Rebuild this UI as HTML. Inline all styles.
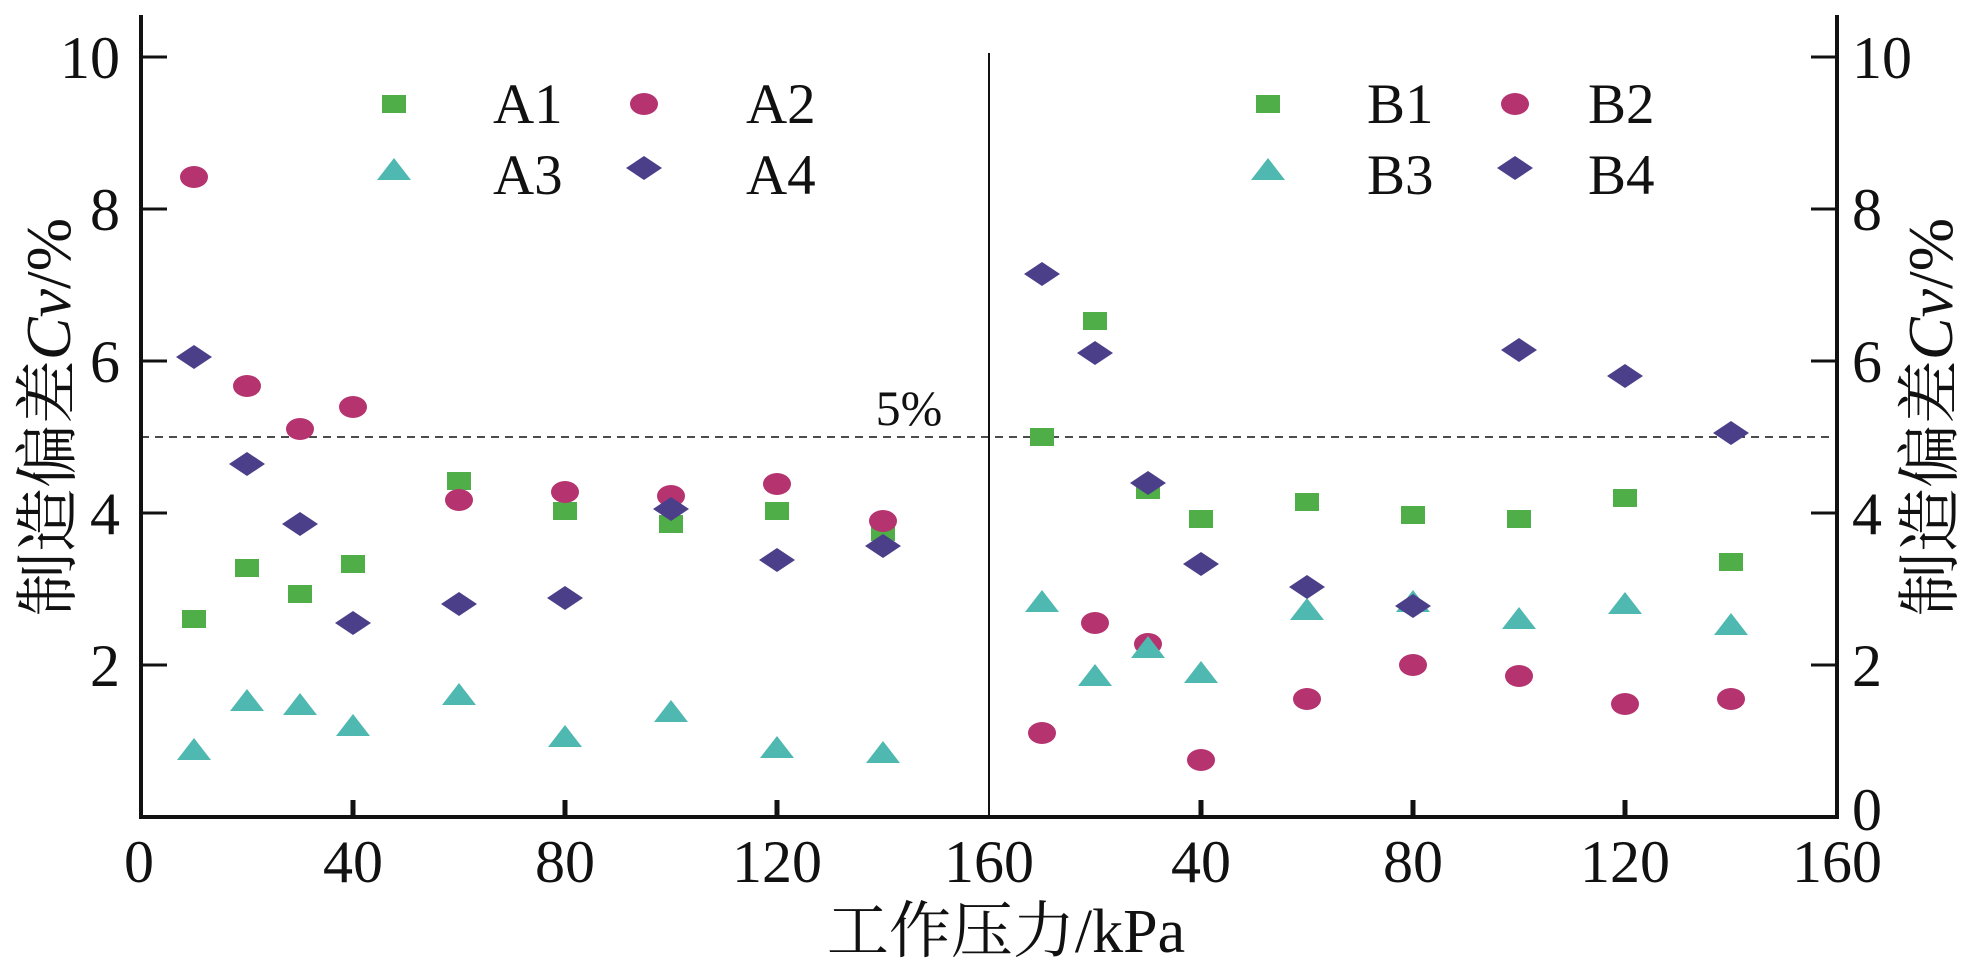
<!DOCTYPE html>
<html><head><meta charset="utf-8"><style>
body{margin:0;background:#fff}
svg{display:block}
text{font-family:"Liberation Serif","Noto Serif CJK SC",serif;fill:#111}
</style></head><body>
<svg width="1980" height="978" viewBox="0 0 1980 978" xmlns="http://www.w3.org/2000/svg">
<defs>
<rect id="sq" x="-12" y="-9" width="24" height="18" fill="#4fae48"/>
<ellipse id="ci" rx="14" ry="11" fill="#b5346f"/>
<polygon id="tr" points="0,-14 17,8 -17,8" fill="#4fb8b0"/>
<polygon id="di" points="-18,0 0,-12 18,0 0,12" fill="#4b3f8a"/>
</defs>
<g stroke="#111" fill="none">
<path d="M141,15 V817 H1837 V15" stroke-width="4"/>
<line x1="989" y1="53" x2="989" y2="817" stroke-width="2"/>
<line x1="141" y1="437" x2="1837" y2="437" stroke-width="1.5" stroke-dasharray="8,6"/>
<g stroke-width="3">
<line x1="141" y1="57" x2="167" y2="57"/><line x1="141" y1="209" x2="167" y2="209"/><line x1="141" y1="361" x2="167" y2="361"/><line x1="141" y1="513" x2="167" y2="513"/><line x1="141" y1="665" x2="167" y2="665"/>
<line x1="1837" y1="57" x2="1811" y2="57"/><line x1="1837" y1="209" x2="1811" y2="209"/><line x1="1837" y1="361" x2="1811" y2="361"/><line x1="1837" y1="513" x2="1811" y2="513"/><line x1="1837" y1="665" x2="1811" y2="665"/>
</g>
<g stroke-width="5">
<line x1="353" y1="817" x2="353" y2="800"/><line x1="565" y1="817" x2="565" y2="800"/><line x1="777" y1="817" x2="777" y2="800"/>
<line x1="1201" y1="817" x2="1201" y2="800"/><line x1="1413" y1="817" x2="1413" y2="800"/><line x1="1625" y1="817" x2="1625" y2="800"/>
</g>
</g>
<g font-size="60" text-anchor="end">
<text x="120" y="78">10</text><text x="120" y="230">8</text><text x="120" y="382">6</text><text x="120" y="534">4</text><text x="120" y="686">2</text>
</g>
<g font-size="60" text-anchor="start">
<text x="1852" y="78">10</text><text x="1852" y="230">8</text><text x="1852" y="382">6</text><text x="1852" y="534">4</text><text x="1852" y="686">2</text><text x="1852" y="830">0</text>
</g>
<g font-size="60" text-anchor="middle">
<text x="139" y="882">0</text><text x="353" y="882">40</text><text x="565" y="882">80</text><text x="777" y="882">120</text><text x="989" y="882">160</text>
<text x="1201" y="882">40</text><text x="1413" y="882">80</text><text x="1625" y="882">120</text><text x="1837" y="882">160</text>
</g>
<text x="1006" y="952" font-size="62" text-anchor="middle">工作压力/kPa</text>
<text x="909" y="425" font-size="50" text-anchor="middle">5%</text>
<text transform="translate(70,417) rotate(-90)" font-size="64" text-anchor="middle">制造偏差<tspan font-style="italic">Cv</tspan>/%</text>
<text transform="translate(1952,417) rotate(-90)" font-size="64" text-anchor="middle">制造偏差<tspan font-style="italic">Cv</tspan>/%</text>
<g font-size="57">
<text x="493" y="123">A1</text><text x="746" y="123">A2</text><text x="493" y="194">A3</text><text x="746" y="194">A4</text>
<text x="1367" y="123">B1</text><text x="1588" y="123">B2</text><text x="1367" y="194">B3</text><text x="1588" y="194">B4</text>
</g>
<use href="#sq" x="394" y="104"/><use href="#ci" x="644" y="104"/><use href="#tr" x="394" y="172"/><use href="#di" x="644" y="168"/>
<use href="#sq" x="1268" y="104"/><use href="#ci" x="1515" y="104"/><use href="#tr" x="1268" y="172"/><use href="#di" x="1515" y="168"/>
<use href="#sq" x="194" y="619"/><use href="#sq" x="247" y="568"/><use href="#sq" x="300" y="594"/><use href="#sq" x="353" y="564"/><use href="#sq" x="459" y="481"/><use href="#sq" x="565" y="511"/><use href="#sq" x="671" y="524"/><use href="#sq" x="777" y="511"/><use href="#sq" x="883" y="532"/>
<use href="#ci" x="194" y="177"/><use href="#ci" x="247" y="386"/><use href="#ci" x="300" y="429"/><use href="#ci" x="353" y="407"/><use href="#ci" x="459" y="500"/><use href="#ci" x="565" y="492"/><use href="#ci" x="671" y="496"/><use href="#ci" x="777" y="484"/><use href="#ci" x="883" y="521"/>
<use href="#tr" x="194" y="752"/><use href="#tr" x="247" y="703"/><use href="#tr" x="300" y="707"/><use href="#tr" x="353" y="728"/><use href="#tr" x="459" y="697"/><use href="#tr" x="565" y="739"/><use href="#tr" x="671" y="714"/><use href="#tr" x="777" y="750"/><use href="#tr" x="883" y="755"/>
<use href="#di" x="194" y="357"/><use href="#di" x="247" y="464"/><use href="#di" x="300" y="524"/><use href="#di" x="353" y="623"/><use href="#di" x="459" y="604"/><use href="#di" x="565" y="598"/><use href="#di" x="671" y="509"/><use href="#di" x="777" y="560"/><use href="#di" x="883" y="546"/>
<use href="#sq" x="1042" y="437"/><use href="#sq" x="1095" y="321"/><use href="#sq" x="1148" y="490"/><use href="#sq" x="1201" y="519"/><use href="#sq" x="1307" y="502"/><use href="#sq" x="1413" y="515"/><use href="#sq" x="1519" y="519"/><use href="#sq" x="1625" y="498"/><use href="#sq" x="1731" y="562"/>
<use href="#ci" x="1042" y="733"/><use href="#ci" x="1095" y="623"/><use href="#ci" x="1148" y="644"/><use href="#ci" x="1201" y="760"/><use href="#ci" x="1307" y="699"/><use href="#ci" x="1413" y="665"/><use href="#ci" x="1519" y="676"/><use href="#ci" x="1625" y="704"/><use href="#ci" x="1731" y="699"/>
<use href="#tr" x="1042" y="604"/><use href="#tr" x="1095" y="678"/><use href="#tr" x="1148" y="650"/><use href="#tr" x="1201" y="675"/><use href="#tr" x="1307" y="612"/><use href="#tr" x="1413" y="604"/><use href="#tr" x="1519" y="621"/><use href="#tr" x="1625" y="606"/><use href="#tr" x="1731" y="627"/>
<use href="#di" x="1042" y="274"/><use href="#di" x="1095" y="353"/><use href="#di" x="1148" y="483"/><use href="#di" x="1201" y="564"/><use href="#di" x="1307" y="587"/><use href="#di" x="1413" y="606"/><use href="#di" x="1519" y="350"/><use href="#di" x="1625" y="376"/><use href="#di" x="1731" y="433"/>
</svg>
</body></html>
